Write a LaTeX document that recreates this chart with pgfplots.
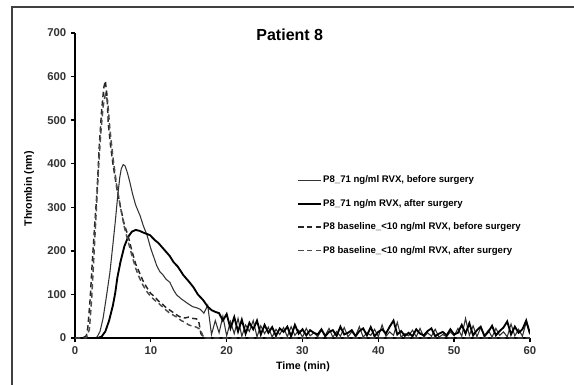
\documentclass[border=0pt]{standalone}
\usepackage{pgfplots}
\pgfplotsset{compat=1.18}
\usepackage{fontspec}
\setmainfont{Liberation Sans}

\begin{document}
\begin{tikzpicture}
\useasboundingbox (-56.25pt,-35.25pt) rectangle (374.25pt,253.5pt);
\draw[line width=1pt, black!75] (-47.25pt,-35.25pt) -- (-47.25pt,248.25pt) -- (374.25pt,248.25pt);
\begin{axis}[
  at={(0,0)}, anchor=south west,
  scale only axis, width=341.25pt, height=228.75pt,
  xmin=0, xmax=60, ymin=0, ymax=700,
  clip mode=individual,
  axis x line*=bottom, axis y line*=left,
  axis line style={line width=1.5pt, black},
  xtick={0,10,...,60}, ytick={0,100,...,700},
  tick align=outside, major tick length=3pt,
  tick style={line width=1pt, black},
  ticklabel style={font=\bfseries\fontsize{8.5pt}{9pt}\selectfont, text=black!80},
  /pgf/number format/assume math mode=true,
  xlabel={Time (min)}, ylabel={Thrombin (nm)},
  xlabel style={font=\bfseries\fontsize{8pt}{9pt}\selectfont, at={(axis description cs:0.501,-0.095)}, anchor=center},
  ylabel style={font=\bfseries\fontsize{8pt}{9pt}\selectfont, at={(axis description cs:-0.101,0.489)}, anchor=center, rotate=0},
  legend style={at={(axis description cs:0.488,0.540)}, anchor=north west, draw=none, fill=none,
    inner sep=0pt, row sep=7.6pt,
    font=\bfseries\fontsize{7.2pt}{8pt}\selectfont,
    nodes={inner sep=1pt, text height=6pt, text depth=2pt}},
  legend cell align=left,
  legend image code/.code={\draw[#1] (0pt,0pt) -- (17pt,0pt);},
]
\node[font=\bfseries\fontsize{12pt}{14pt}\selectfont] at (axis description cs:0.472,0.993) {Patient 8};

% thin solid: 71 ng/ml before surgery
\addplot[line width=0.8pt, black!80, no marks] coordinates {
(0,0) (2.5,0) (2.9,2) (3.3,15) (3.7,45) (4.1,90) (4.6,150) (5,215) (5.3,265) (5.6,320) (5.9,368) (6.1,388) (6.35,398) (6.6,395) (6.9,380) (7.2,360) (7.6,330) (8,305) (8.6,280) (9,258) (9.5,236) (10,205) (10.3,190) (10.8,165) (11.2,152) (11.6,145) (12,135) (12.5,128) (13,110) (13.4,99) (14,90) (14.8,80) (15.5,72) (16.1,69) (16.5,66) (17,57)
(17.5,75) (18,8) (18.5,40) (19,12) (19.5,50) (20,5) (20.5,38) (21,10) (21.5,45) (22,4) (22.5,30) (23,15) (23.5,40) (24,3) (24.5,28) (25,10) (25.5,25) (26,2) (26.5,20) (27,8) (27.5,24) (28,3) (28.5,26) (29,6) (29.5,18) (30,2) (30.5,22) (31,5) (31.5,12) (32,3) (32.5,18) (33,6) (33.5,22) (34,2) (34.5,15) (35,4) (35.5,24) (36,3) (36.5,14) (37,5) (37.5,26) (38,2) (38.5,12) (39,6) (39.5,20) (40,3) (40.5,30) (41,4) (41.5,14) (42,6) (42.5,36) (43,2) (43.5,10) (44,5) (44.5,18) (45,3) (45.5,22) (46,2) (46.5,12) (47,4) (47.5,20) (48,2) (48.5,8) (49,3) (49.5,14) (50,5) (50.5,22) (51,4) (51.5,45) (52,6) (52.5,28) (53,3) (53.5,24) (54,5) (54.5,18) (55,2) (55.5,22) (56,6) (56.5,14) (57,3) (57.5,32) (58,5) (58.5,20) (59,4) (59.5,36) (60,8)
};
\addlegendentry{P8\_71 ng/ml RVX, before surgery}

% thick solid: 71 ng/ml after surgery
\addplot[line width=1.4pt, black, no marks] coordinates {
(0,0) (3,0) (3.5,3) (4,15) (4.5,40) (5,75) (5.3,103) (5.6,140) (6,175) (6.5,210) (7,232) (7.5,244) (8,248) (8.5,246) (9,242) (9.9,236) (10.5,225) (11,218) (11.6,206) (12,198) (12.5,188) (13,174) (13.5,165) (14,152) (14.3,144) (15,130) (15.6,117) (16.2,100) (16.9,87) (17.5,72) (18,64) (18.5,60) (19,57)
(19.5,40) (20,55) (20.5,22) (21,48) (21.5,15) (22,42) (22.5,10) (23,35) (23.5,20) (24,40) (24.5,8) (25,30) (25.5,12) (26,25) (26.5,5) (27,22) (27.5,14) (28,26) (28.5,4) (29,30) (29.5,10) (30,20) (30.5,6) (31,18) (31.5,12) (32,8) (32.5,20) (33,4) (33.5,14) (34,18) (34.5,5) (35,26) (35.5,8) (36,12) (36.5,18) (37,4) (37.5,16) (38,22) (38.5,6) (39,25) (39.5,4) (40,14) (40.5,20) (41,10) (41.5,26) (42,40) (42.5,8) (43,16) (43.5,5) (44,12) (44.5,4) (45,20) (45.5,10) (46,6) (46.5,16) (47,22) (47.5,4) (48,10) (48.5,14) (49,6) (49.5,20) (50,8) (50.5,12) (51,30) (51.5,10) (52,34) (52.5,6) (53,18) (53.5,26) (54,4) (54.5,14) (55,28) (55.5,6) (56,16) (56.5,24) (57,38) (57.5,8) (58,26) (58.5,12) (59,20) (59.5,40) (60,10)
};
\addlegendentry{P8\_71 ng/m RVX, after surgery}

% dashed: baseline before surgery
\addplot[line width=1.1pt, black!85, dash pattern=on 4pt off 2.5pt, no marks] coordinates {
(0,0) (1,0) (1.5,5) (1.7,25) (2,90) (2.3,180) (2.6,260) (2.9,335) (3.2,440) (3.5,520) (3.8,575) (4.0,590) (4.2,560) (4.4,490) (4.7,440) (5.0,400) (5.5,345) (6,300) (6.5,260) (7,235) (7.5,200) (8,170) (8.5,150) (9,130) (9.5,115) (10,102) (10.5,95) (11,85) (11.5,78) (12,70) (12.5,64) (13,58) (13.5,52) (14,47) (14.5,46) (15,48) (15.5,45) (16,44) (16.3,40) (16.6,10) (17,0) (60,0)
};
\addlegendentry{P8 baseline\_<10 ng/ml RVX, before surgery}

% dashed: baseline after surgery
\addplot[line width=1.1pt, black!70, dash pattern=on 4pt off 2.5pt, no marks] coordinates {
(0,0) (1.5,0) (1.9,20) (2.2,90) (2.5,190) (2.8,290) (3.1,390) (3.4,470) (3.7,530) (4.0,560) (4.3,545) (4.6,480) (5,415) (5.5,350) (6,300) (6.5,255) (7,222) (7.5,190) (8,160) (8.5,138) (9,120) (9.5,106) (10,95) (10.5,87) (11,80) (11.5,72) (12,64) (12.5,57) (13,52) (13.5,47) (14,40) (14.5,36) (15,30) (15.5,27) (16,25) (16.5,20) (17,0) (60,0)
};
\addlegendentry{P8 baseline\_<10 ng/ml RVX, after surgery}
\end{axis}
\end{tikzpicture}
\end{document}
